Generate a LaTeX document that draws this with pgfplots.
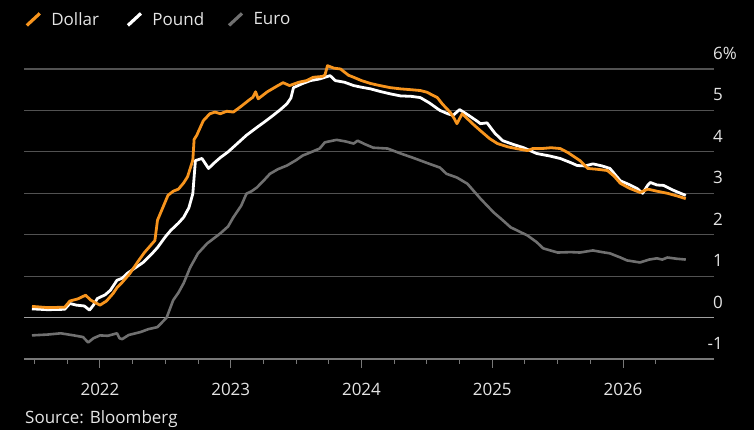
\documentclass[border=0pt]{standalone}
\usepackage{pgfplots}
\pgfplotsset{compat=1.18}
\usepackage{fontspec}
\setmainfont{Open Sans}

\definecolor{usdorange}{RGB}{247,148,29}
\definecolor{gbpwhite}{RGB}{255,255,255}
\definecolor{eurgrey}{RGB}{112,112,112}
\definecolor{labelcol}{RGB}{228,228,228}
\definecolor{gridcol}{RGB}{82,82,82}
\definecolor{zerocol}{RGB}{160,160,160}
\definecolor{basecol}{RGB}{120,120,120}

\newcommand{\chartfont}{\fontsize{17}{20}\selectfont}

\begin{document}
\begin{tikzpicture}
\fill[black] (0,0) rectangle (754pt,430pt);
\begin{axis}[
  at={(24pt,71pt)}, anchor=south west,
  width=690pt, height=290pt, scale only axis,
  xmin=2021.419, xmax=2026.696,
  ymin=-1, ymax=6,
  axis x line*=bottom,
  axis y line*=right,
  x axis line style={draw=basecol, line width=1.2pt},
  y axis line style={draw=none},
  xtick={2022,2023,2024,2025,2026},
  xticklabels={2022,2023,2024,2025,2026},
  minor xtick={2021.5,2021.75,2022.25,2022.5,2022.75,2023.25,2023.5,2023.75,2024.25,2024.5,2024.75,2025.25,2025.5,2025.75,2026.25},
  tick align=outside,
  major tick length=9pt, minor tick length=5pt,
  xtick style={draw=basecol, line width=1pt},
  minor tick style={draw=basecol, line width=1pt},
  ytick={-1,0,1,2,3,4,5,6},
  yticklabels={-1,0,1,2,3,4,5,6\rlap{\%}},
  ytick style={draw=none},
  ymajorgrids,
  major grid style={draw=gridcol, line width=1.2pt},
  extra y ticks={0},
  extra y tick labels={},
  extra y tick style={ymajorgrids, major grid style={draw=zerocol, line width=1.8pt}},
  /pgf/number format/assume math mode=true,
  xticklabel style={font=\chartfont, text=labelcol, anchor=base, inner sep=0pt, yshift=-28pt},
  yticklabel style={font=\chartfont, text=labelcol, anchor=base east, inner sep=0pt, xshift=0pt, yshift=9.5pt},
  clip=false,
  legend columns=-1,
  reverse legend,
  legend style={at={(rel axis cs:0.0015,1.171)}, anchor=west, draw=none, fill=none,
    font=\chartfont, text=labelcol, inner sep=0pt,
    /tikz/every even column/.style={column sep=0pt},
    nodes={inner sep=0pt}},
  legend cell align=left,
  legend image code/.code={%
    \path[draw=none, fill=none] (0pt,-7pt) rectangle (25pt,7pt);
    \draw[line width=3.2pt, line cap=butt] (0.5pt,-6pt) -- (13.5pt,6pt);
  },
]

% Euro
\addplot[eurgrey, line width=2.6pt, line join=round] coordinates {
(2021.48,-0.43) (2021.60,-0.41) (2021.70,-0.38) (2021.80,-0.43) (2021.87,-0.47)
(2021.91,-0.60) (2021.95,-0.50) (2022.00,-0.43) (2022.06,-0.44) (2022.13,-0.38)
(2022.15,-0.50) (2022.17,-0.52) (2022.22,-0.42) (2022.31,-0.35) (2022.37,-0.28)
(2022.44,-0.23) (2022.51,0.00) (2022.56,0.42) (2022.60,0.60) (2022.64,0.83)
(2022.69,1.21) (2022.75,1.55) (2022.82,1.79) (2022.92,2.03) (2022.98,2.20)
(2023.02,2.42) (2023.08,2.70) (2023.12,2.99) (2023.16,3.05) (2023.20,3.14)
(2023.25,3.30) (2023.30,3.47) (2023.36,3.58) (2023.43,3.67) (2023.50,3.80)
(2023.55,3.91) (2023.62,4.00) (2023.68,4.08) (2023.72,4.23) (2023.81,4.29)
(2023.88,4.25) (2023.94,4.20) (2023.97,4.27) (2024.03,4.18) (2024.09,4.10)
(2024.20,4.08) (2024.30,3.96) (2024.40,3.85) (2024.52,3.71) (2024.60,3.62)
(2024.65,3.47) (2024.73,3.38) (2024.81,3.23) (2024.86,3.05) (2024.91,2.87)
(2025.01,2.54) (2025.08,2.35) (2025.14,2.18) (2025.27,1.98) (2025.34,1.82)
(2025.39,1.67) (2025.50,1.57) (2025.60,1.58) (2025.67,1.57) (2025.77,1.62)
(2025.84,1.58) (2025.90,1.55) (2025.98,1.45) (2026.03,1.38) (2026.13,1.33)
(2026.20,1.40) (2026.26,1.43) (2026.30,1.40) (2026.34,1.45) (2026.41,1.42)
(2026.48,1.40)
};
\addlegendentry{\makebox[75pt][l]{Euro}}

% Pound
\addplot[gbpwhite, line width=2.8pt, line join=round] coordinates {
(2021.48,0.21) (2021.60,0.19) (2021.73,0.20) (2021.77,0.34) (2021.82,0.30)
(2021.88,0.28) (2021.92,0.18) (2021.95,0.30) (2021.98,0.46) (2022.04,0.55)
(2022.08,0.66) (2022.13,0.90) (2022.17,0.95) (2022.21,1.07) (2022.27,1.20)
(2022.33,1.33) (2022.40,1.55) (2022.44,1.69) (2022.50,1.95) (2022.54,2.10)
(2022.60,2.28) (2022.64,2.42) (2022.68,2.65) (2022.71,2.99) (2022.73,3.79)
(2022.78,3.84) (2022.83,3.60) (2022.88,3.75) (2022.92,3.86) (2022.98,4.00)
(2023.05,4.20) (2023.12,4.40) (2023.20,4.59) (2023.27,4.75) (2023.32,4.87)
(2023.38,5.02) (2023.43,5.16) (2023.46,5.30) (2023.48,5.55) (2023.55,5.65)
(2023.61,5.72) (2023.68,5.76) (2023.72,5.80) (2023.76,5.84) (2023.80,5.72)
(2023.87,5.68) (2023.94,5.60) (2024.00,5.56) (2024.07,5.52) (2024.14,5.46)
(2024.22,5.40) (2024.30,5.35) (2024.38,5.34) (2024.45,5.31) (2024.52,5.18)
(2024.60,5.00) (2024.66,4.92) (2024.70,4.88) (2024.75,5.02) (2024.82,4.88)
(2024.88,4.75) (2024.91,4.68) (2024.96,4.70) (2025.02,4.45) (2025.08,4.27)
(2025.16,4.18) (2025.24,4.10) (2025.34,3.96) (2025.44,3.90) (2025.52,3.84)
(2025.60,3.74) (2025.65,3.67) (2025.71,3.66) (2025.77,3.71) (2025.84,3.66)
(2025.90,3.60) (2025.98,3.30) (2026.04,3.22) (2026.11,3.11) (2026.15,3.00)
(2026.19,3.20) (2026.21,3.26) (2026.26,3.20) (2026.31,3.19) (2026.38,3.08)
(2026.44,3.00) (2026.48,2.95)
};
\addlegendentry{\makebox[75pt][l]{Pound}}

% Dollar
\addplot[usdorange, line width=2.8pt, line join=round] coordinates {
(2021.48,0.27) (2021.60,0.24) (2021.73,0.25) (2021.77,0.40) (2021.83,0.45)
(2021.89,0.54) (2021.93,0.42) (2022.00,0.30) (2022.05,0.40) (2022.10,0.58)
(2022.13,0.72) (2022.17,0.85) (2022.23,1.07) (2022.29,1.35) (2022.34,1.57)
(2022.42,1.86) (2022.44,2.35) (2022.48,2.65) (2022.52,2.95) (2022.56,3.05)
(2022.60,3.10) (2022.64,3.25) (2022.67,3.40) (2022.71,3.80) (2022.72,4.30)
(2022.74,4.40) (2022.79,4.75) (2022.84,4.92) (2022.88,4.96) (2022.92,4.92)
(2022.97,4.98) (2023.02,4.96) (2023.08,5.10) (2023.14,5.25) (2023.17,5.32)
(2023.19,5.45) (2023.21,5.28) (2023.28,5.45) (2023.35,5.58) (2023.40,5.67)
(2023.45,5.60) (2023.52,5.68) (2023.58,5.72) (2023.63,5.80) (2023.70,5.82)
(2023.72,5.85) (2023.74,6.08) (2023.79,6.02) (2023.84,6.00) (2023.90,5.85)
(2023.94,5.80) (2024.00,5.72) (2024.07,5.65) (2024.14,5.60) (2024.22,5.55)
(2024.30,5.52) (2024.38,5.50) (2024.45,5.48) (2024.50,5.44) (2024.58,5.31)
(2024.62,5.15) (2024.68,4.95) (2024.71,4.80) (2024.73,4.68) (2024.77,4.92)
(2024.81,4.80) (2024.86,4.65) (2024.91,4.51) (2024.98,4.32) (2025.04,4.20)
(2025.12,4.12) (2025.20,4.07) (2025.27,4.03) (2025.31,4.08) (2025.38,4.08)
(2025.45,4.10) (2025.52,4.08) (2025.58,3.98) (2025.67,3.79) (2025.73,3.60)
(2025.80,3.58) (2025.88,3.55) (2025.93,3.42) (2025.98,3.24) (2026.05,3.12)
(2026.13,3.02) (2026.19,3.10) (2026.26,3.05) (2026.34,3.00) (2026.42,2.93)
(2026.48,2.87)
};
\addlegendentry{\makebox[75pt][l]{Dollar}}

\end{axis}
\node[anchor=base west, inner sep=0pt, font=\chartfont, text=labelcol] at (25pt,6pt) {Source: Bloomberg};
\pgfresetboundingbox
\useasboundingbox (0,0) rectangle (754pt,430pt);
\end{tikzpicture}
\end{document}
